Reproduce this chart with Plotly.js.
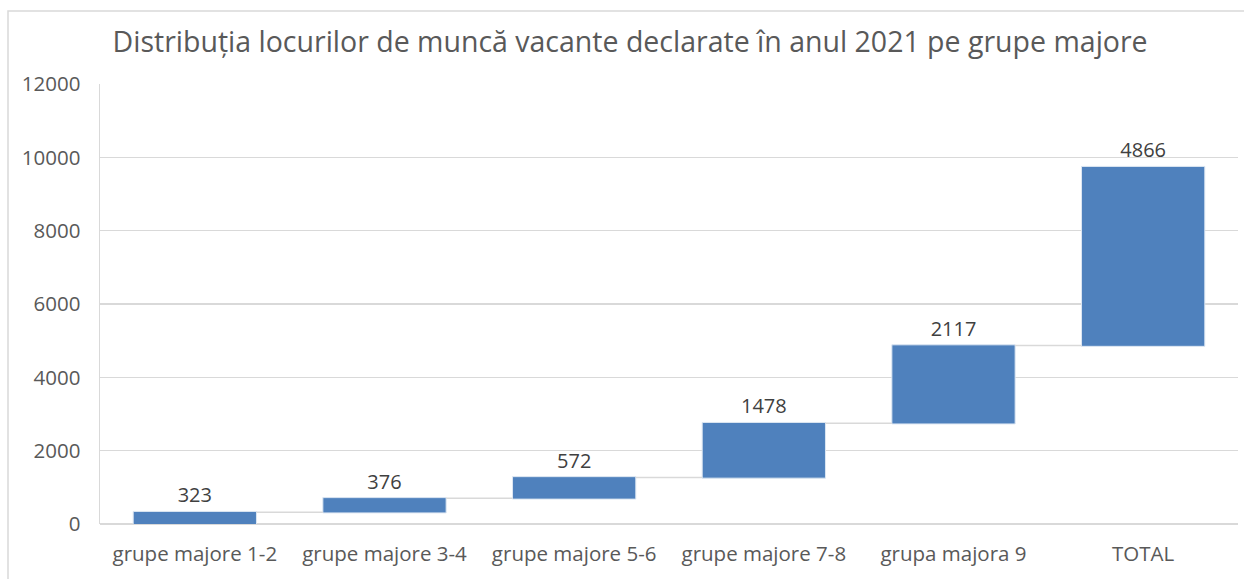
<!DOCTYPE html>
<html>
<head>
<meta charset="utf-8">
<script src="https://cdn.plot.ly/plotly-3.0.1.min.js"></script>
<style>
html,body{margin:0;padding:0;background:#fff;}
#chart{width:1244px;height:579px;}
</style>
</head>
<body>
<div id="chart"></div>
<script>
const categories = ["grupe majore 1-2", "grupe majore 3-4", "grupe majore 5-6", "grupe majore 7-8", "grupa majora 9", "TOTAL"];
const values = [323, 376, 572, 1478, 2117, 4866];
const measures = ["relative", "relative", "relative", "relative", "relative", "relative"];
const yTicks = [0, 2000, 4000, 6000, 8000, 10000, 12000];

const W = 1244, H = 579;
const mL = 100, mR = 6, mT = 84, mB = 55;
const pw = W - mL - mR, ph = H - mT - mB;
const px = v => (v - mL) / pw;
const py = v => (H - mB - v) / ph;

const trace = {
  type: "waterfall",
  x: categories,
  y: values,
  measure: measures,
  text: values.map(String),
  textposition: "outside",
  textfont: {family: "Open Sans, sans-serif", size: 20, color: "#404040"},
  cliponaxis: false,
  increasing: {marker: {color: "#4f81bd", line: {color: "#dce6f2", width: 1}}},
  decreasing: {marker: {color: "#c0504d"}},
  totals: {marker: {color: "#9bbb59"}},
  connector: {line: {color: "#d9d9d9", width: 1.5, dash: "solid"}, mode: "between"},
  width: 0.65,
  hoverinfo: "x+y"
};

const layout = {
  width: W, height: H,
  margin: {l: mL, r: mR, t: mT, b: mB, pad: 0},
  paper_bgcolor: "#ffffff",
  plot_bgcolor: "#ffffff",
  showlegend: false,
  title: {
    text: "Distribuția locurilor de muncă vacante declarate în anul 2021 pe grupe majore",
    font: {family: "Open Sans, sans-serif", size: 28.5, color: "#595959"},
    x: 0.5065, xanchor: "center", y: 1 - 42 / H, yanchor: "middle"
  },
  xaxis: {
    type: "category",
    showgrid: false,
    showline: false,
    zeroline: false,
    ticks: "",
    tickfont: {family: "Open Sans, sans-serif", size: 20.5, color: "#595959"},
    ticklabelstandoff: 15
  },
  yaxis: {
    range: [0, 12000],
    tickvals: yTicks,
    ticktext: yTicks.map(String),
    showgrid: true,
    gridcolor: "#d9d9d9",
    gridwidth: 1.5,
    zeroline: true,
    zerolinecolor: "#d9d9d9",
    zerolinewidth: 1.5,
    showline: true,
    linecolor: "#d9d9d9",
    linewidth: 1.5,
    ticks: "",
    tickfont: {family: "Open Sans, sans-serif", size: 20.5, color: "#595959"},
    ticklabelstandoff: 14
  },
  shapes: [
    {type: "rect", xref: "paper", yref: "paper",
     x0: px(8), x1: px(1260), y0: py(600), y1: py(11),
     line: {color: "#d9d9d9", width: 1.5}, fillcolor: "rgba(0,0,0,0)", layer: "below"}
  ]
};

Plotly.newPlot("chart", [trace], layout, {displayModeBar: false, staticPlot: true});
</script>
</body>
</html>
